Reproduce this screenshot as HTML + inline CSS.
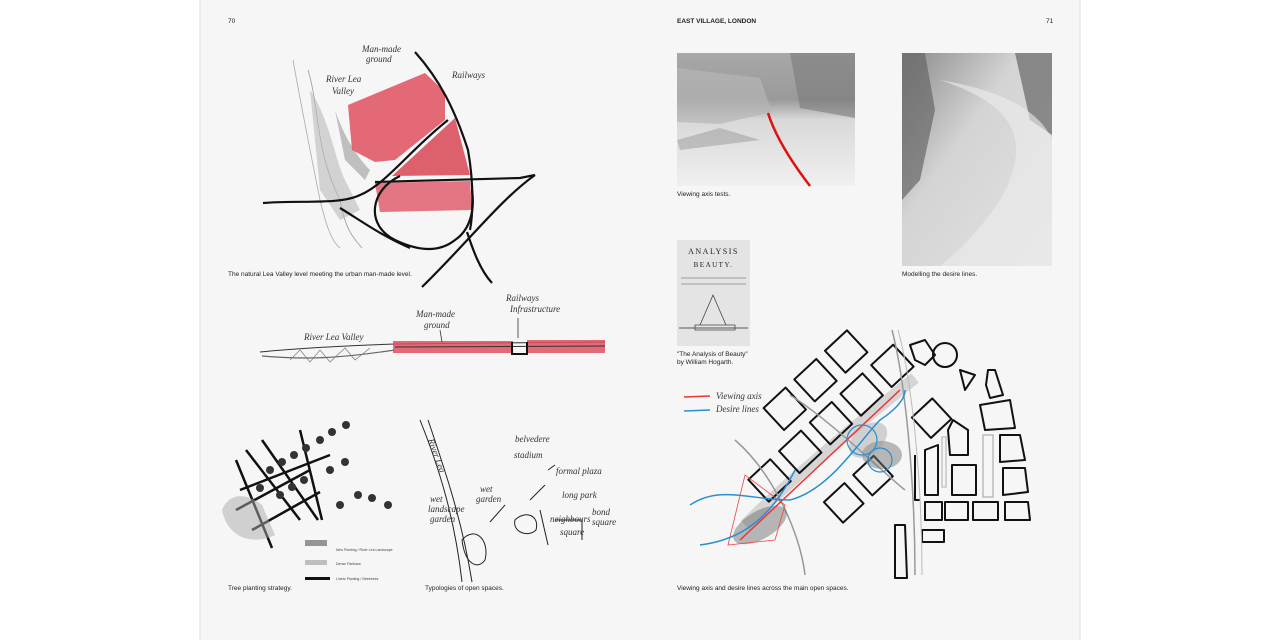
<!DOCTYPE html>
<html><head><meta charset="utf-8"><style>
html,body{margin:0;padding:0;background:#fff;}
body{width:1280px;height:640px;overflow:hidden;position:relative;font-family:"Liberation Sans",sans-serif;}
svg{position:absolute;left:0;top:0;}
.cap{font-family:"Liberation Sans",sans-serif;font-size:6.5px;fill:#222;}
.hw{font-family:"Liberation Serif",serif;font-style:italic;font-size:9px;fill:#333;}
</style></head><body>
<svg width="1280" height="640" viewBox="0 0 1280 640" xmlns="http://www.w3.org/2000/svg">
<defs>
<linearGradient id="p1" x1="0" y1="0" x2="0" y2="1"><stop offset="0" stop-color="#a8a8a8"/><stop offset="0.35" stop-color="#9a9a9a"/><stop offset="0.5" stop-color="#d8d8d8"/><stop offset="1" stop-color="#f0f0f0"/></linearGradient>
<linearGradient id="p2" x1="0" y1="0" x2="1" y2="1"><stop offset="0" stop-color="#8a8a8a"/><stop offset="0.4" stop-color="#d4d4d4"/><stop offset="1" stop-color="#e2e2e2"/></linearGradient>
</defs>
<rect x="200" y="0" width="880" height="640" fill="#f6f6f6"/>
<line x1="200" y1="0" x2="200" y2="640" stroke="#ddd" stroke-width="1"/>
<line x1="1080" y1="0" x2="1080" y2="640" stroke="#ddd" stroke-width="1"/>
<text x="228" y="23" class="cap">70</text>
<text x="677" y="23" class="cap" font-weight="bold">EAST VILLAGE, LONDON</text>
<text x="1046" y="23" class="cap">71</text>

<!-- Sketch 1 -->
<g>
<path d="M293,60 C300,100 310,150 320,200 C325,220 330,240 340,248" stroke="#aaa" fill="none" stroke-width="0.8"/>
<path d="M308,70 C320,110 315,150 340,200 C345,230 355,240 362,248" stroke="#999" fill="none" stroke-width="0.8"/>
<path d="M310,90 C330,120 335,160 345,180 L360,210 L340,220 L320,190 Z" fill="#bbb" opacity="0.6"/>
<path d="M335,110 C345,140 360,160 370,170 L365,180 L345,160 Z" fill="#888" opacity="0.5"/>
<path d="M348,105 L425,73 L445,92 L445,120 L395,160 L375,162 L352,150 Z" fill="#e05060" opacity="0.85"/>
<path d="M392,176 L455,118 L470,175 Z" fill="#d84555" opacity="0.85"/>
<path d="M375,183 L470,181 L472,210 L380,212 Z" fill="#e05565" opacity="0.8"/>
<path d="M415,52 C440,80 455,110 468,150 C475,190 472,220 470,230" stroke="#111" stroke-width="2.2" fill="none"/>
<path d="M263,203 C300,200 340,205 360,195 C385,185 410,150 448,120" stroke="#111" stroke-width="2.2" fill="none"/>
<path d="M375,182 L520,178 L535,175" stroke="#111" stroke-width="2.2" fill="none"/>
<path d="M400,176 C370,190 365,225 395,240 C420,252 440,252 455,240 C470,230 475,210 472,190" stroke="#111" stroke-width="2.2" fill="none"/>
<path d="M340,208 C360,220 380,235 410,248" stroke="#111" stroke-width="2.2" fill="none"/>
<path d="M535,175 C500,200 470,240 422,287" stroke="#111" stroke-width="2.2" fill="none"/>
<path d="M467,232 C473,250 480,270 492,283" stroke="#111" stroke-width="2.2" fill="none"/>
<text x="362" y="52" class="hw">Man-made</text><text x="366" y="62" class="hw">ground</text>
<text x="326" y="82" class="hw">River Lea</text><text x="332" y="94" class="hw">Valley</text>
<text x="452" y="78" class="hw">Railways</text>
</g>
<text x="228" y="276" class="cap">The natural Lea Valley level meeting the urban man-made level.</text>

<!-- Section sketch -->
<g>
<path d="M260,352 C300,348 340,346 395,344 L605,342" stroke="#333" fill="none" stroke-width="1"/>
<path d="M262,356 C310,360 340,358 395,350" stroke="#666" fill="none" stroke-width="1.2"/>
<path d="M290,360 L300,350 L310,362 L320,350 L330,362 L345,348 L355,360 L370,348" stroke="#777" fill="none" stroke-width="0.7"/>
<rect x="393" y="341" width="120" height="12" fill="#e05060" opacity="0.85"/>
<rect x="527" y="340" width="78" height="13" fill="#e05060" opacity="0.85"/>
<path d="M395,347 L605,346" stroke="#333" stroke-width="1"/>
<path d="M512,342 L512,354 L527,354 L527,342" stroke="#111" stroke-width="2" fill="none"/>
<path d="M440,330 L442,342" stroke="#333" stroke-width="0.8"/>
<path d="M518,318 L518,338" stroke="#333" stroke-width="0.8"/>
<text x="304" y="340" class="hw">River Lea Valley</text>
<text x="416" y="317" class="hw">Man-made</text><text x="424" y="328" class="hw">ground</text>
<text x="506" y="301" class="hw">Railways</text><text x="510" y="312" class="hw">Infrastructure</text>
</g>

<!-- Tree planting -->
<g stroke="#111" stroke-width="2.5" fill="none">
<path d="M236,460 L272,548"/><path d="M246,450 L300,520"/><path d="M262,440 L318,520"/>
<path d="M300,430 L322,520"/><path d="M236,510 L310,470"/><path d="M240,490 L330,455"/>
<path d="M252,530 L320,492"/>
</g>
<g fill="#333">
<circle cx="270" cy="470" r="4"/><circle cx="282" cy="462" r="4"/><circle cx="294" cy="455" r="4"/><circle cx="306" cy="448" r="4"/>
<circle cx="320" cy="440" r="4"/><circle cx="332" cy="432" r="4"/><circle cx="346" cy="425" r="4"/>
<circle cx="280" cy="495" r="4"/><circle cx="292" cy="487" r="4"/><circle cx="304" cy="480" r="4"/><circle cx="330" cy="470" r="4"/>
<circle cx="345" cy="462" r="4"/><circle cx="358" cy="495" r="4"/><circle cx="372" cy="498" r="4"/><circle cx="388" cy="505" r="4"/>
<circle cx="340" cy="505" r="4"/><circle cx="260" cy="488" r="4"/>
</g>
<path d="M222,510 C230,490 250,495 262,505 L275,535 C255,545 228,540 222,510Z" fill="#aaa" opacity="0.5"/>
<rect x="305" y="540" width="22" height="6" fill="#555" opacity="0.6"/>
<rect x="305" y="560" width="22" height="5" fill="#999" opacity="0.6"/>
<rect x="305" y="577" width="25" height="3" fill="#111"/>
<text x="336" y="551" font-size="3.5" fill="#444">New Planting / River Lea Landscape</text>
<text x="336" y="565" font-size="3.5" fill="#444">Dense Parklane</text>
<text x="336" y="580" font-size="3.5" fill="#444">Linear Planting / Streetrees</text>
<text x="228" y="590" class="cap">Tree planting strategy.</text>

<!-- Typologies -->
<g stroke="#222" stroke-width="1" fill="none">
<path d="M420,420 C440,470 455,520 462,582"/><path d="M428,420 C445,470 462,520 472,582"/>
<path d="M462,540 C475,525 490,540 485,560 C478,570 465,565 462,540Z"/>
<path d="M515,520 C525,510 540,515 536,530 C528,538 512,532 515,520Z"/>
<path d="M540,510 L548,545"/><path d="M555,520 L582,520 L582,540"/>
<path d="M490,522 L505,505"/><path d="M530,500 L545,485"/><path d="M548,470 L555,465"/>
</g>
<text x="428" y="440" class="hw" transform="rotate(70 428 440)">River Lea</text>
<text x="515" y="442" class="hw">belvedere</text><text x="514" y="458" class="hw">stadium</text>
<text x="556" y="474" class="hw">formal plaza</text>
<text x="480" y="492" class="hw">wet</text><text x="476" y="502" class="hw">garden</text>
<text x="430" y="502" class="hw">wet</text><text x="428" y="512" class="hw">landscape</text><text x="430" y="522" class="hw">garden</text>
<text x="562" y="498" class="hw">long park</text>
<text x="550" y="522" class="hw">neighbours</text><text x="560" y="535" class="hw">square</text>
<text x="592" y="515" class="hw">bond</text><text x="592" y="525" class="hw">square</text>
<text x="425" y="590" class="cap">Typologies of open spaces.</text>

<!-- Photos -->
<rect x="677" y="53" width="178" height="133" fill="url(#p1)"/>
<path d="M677,68 L760,78 L772,112 L720,124 L677,122Z" fill="#b5b5b5" opacity="0.7"/>
<path d="M790,53 L855,53 L855,118 L800,108Z" fill="#7a7a7a" opacity="0.6"/>
<path d="M677,140 L720,128 L760,140 L680,150Z" fill="#888" opacity="0.4"/>
<path d="M768,113 C775,135 790,160 810,186" stroke="#d11" stroke-width="2.5" fill="none"/>
<text x="677" y="196" class="cap">Viewing axis tests.</text>

<rect x="902" y="53" width="150" height="213" fill="url(#p2)"/>
<path d="M902,53 L925,53 L935,110 L920,180 L902,200Z" fill="#666" opacity="0.7"/>
<path d="M1015,53 L1052,53 L1052,135 L1030,120Z" fill="#666" opacity="0.7"/>
<path d="M940,80 C1000,100 1040,130 1000,200 C980,230 960,250 940,266 L1052,266 L1052,140 C1040,110 1000,90 940,80Z" fill="#ececec" opacity="0.6"/>
<text x="902" y="276" class="cap">Modelling the desire lines.</text>

<rect x="677" y="240" width="73" height="106" fill="#e4e4e4"/>
<text x="713.5" y="254" text-anchor="middle" font-family="Liberation Serif,serif" font-size="8" letter-spacing="1.5" fill="#222">ANALYSIS</text>
<text x="713.5" y="267" text-anchor="middle" font-family="Liberation Serif,serif" font-size="7" letter-spacing="1.5" fill="#222">BEAUTY.</text>
<line x1="681" y1="278" x2="746" y2="278" stroke="#555" stroke-width="0.5"/>
<line x1="681" y1="284" x2="746" y2="284" stroke="#555" stroke-width="0.5"/>
<path d="M700,325 L713,295 L726,325 M695,325 L735,325 L735,330 L695,330Z" stroke="#444" fill="none" stroke-width="0.8"/>
<line x1="679" y1="328" x2="748" y2="328" stroke="#555" stroke-width="1"/>
<text x="677" y="356" class="cap">"The Analysis of Beauty"</text>
<text x="677" y="364" class="cap">by William Hogarth.</text>

<!-- Big plan sketch -->
<path d="M745,525 C790,480 850,430 915,378" stroke="#888" stroke-width="12" opacity="0.3" fill="none"/>
<g stroke="#111" stroke-width="2" fill="none" stroke-linejoin="round">
<g transform="translate(835,470) rotate(-43)">
<rect x="-28" y="-52" width="30" height="30"/><rect x="14" y="-52" width="30" height="30"/>
<rect x="56" y="-52" width="30" height="30"/><rect x="98" y="-52" width="30" height="30"/>
<rect x="-70" y="-52" width="30" height="30"/>
<rect x="-10" y="-94" width="30" height="30"/><rect x="32" y="-94" width="30" height="30"/><rect x="74" y="-94" width="30" height="30"/>
<rect x="-30" y="16" width="28" height="28"/><rect x="10" y="16" width="28" height="28"/><rect x="92" y="14" width="28" height="28"/>
</g>
<path d="M910,345 L925,340 L935,355 L925,365 L915,360Z"/>
<circle cx="945" cy="355" r="12"/>
<path d="M960,370 L975,375 L965,390Z"/>
<path d="M988,370 L995,370 L1003,395 L990,398 L986,385Z"/>
<path d="M980,405 L1010,400 L1015,428 L985,430Z"/>
<path d="M953,420 L968,430 L968,455 L950,455 L948,430Z"/>
<path d="M1000,435 L1020,435 L1025,460 L1000,462Z"/>
<path d="M925,450 L938,445 L938,495 L925,495Z"/>
<path d="M952,465 L976,465 L976,495 L952,495Z"/>
<path d="M1003,468 L1025,468 L1028,492 L1003,495Z"/>
<path d="M925,502 L942,502 L942,520 L925,520Z"/><path d="M945,502 L968,502 L968,520 L945,520Z"/>
<path d="M973,502 L998,502 L998,520 L973,520Z"/><path d="M1005,502 L1028,502 L1030,520 L1005,520Z"/>
<path d="M895,525 L905,525 L907,578 L895,578Z"/><path d="M922,530 L944,530 L944,542 L922,542Z"/>
<path d="M915,455 L915,500 L920,500" />
</g>
<rect x="983" y="435" width="10" height="62" fill="none" stroke="#bbb" stroke-width="1.5"/>
<rect x="942" y="437" width="4" height="50" fill="none" stroke="#bbb" stroke-width="1.2"/>
<path d="M892,330 C905,380 915,480 915,575" stroke="#999" stroke-width="1.5" fill="none"/>
<path d="M898,330 C912,380 922,480 922,575" stroke="#bbb" stroke-width="1" fill="none"/>
<path d="M735,440 C770,470 800,530 805,575" stroke="#999" stroke-width="1.5" fill="none"/>
<path d="M790,395 C830,420 880,470 905,490" stroke="#999" stroke-width="1.5" fill="none"/>
<ellipse cx="882" cy="455" rx="20" ry="14" fill="#777" opacity="0.5"/>
<ellipse cx="868" cy="440" rx="22" ry="14" fill="#999" opacity="0.4" transform="rotate(-40 868 440)"/>
<ellipse cx="760" cy="525" rx="30" ry="14" fill="#555" opacity="0.4" transform="rotate(-30 760 525)"/>
<path d="M728,545 L745,475 L785,505 L775,540Z" stroke="#e44" stroke-width="0.8" fill="none"/>
<path d="M740,540 L900,390" stroke="#e33" stroke-width="1.5" fill="none"/>
<path d="M690,505 C720,485 750,500 790,500 C830,490 860,440 880,420 C895,410 905,400 905,390" stroke="#2a8fd0" stroke-width="1.5" fill="none"/>
<path d="M700,545 C740,540 770,520 795,470" stroke="#2a8fd0" stroke-width="1.5" fill="none"/>
<circle cx="862" cy="440" r="15" stroke="#2a8fd0" stroke-width="1.2" fill="none"/>
<circle cx="880" cy="460" r="12" stroke="#2a8fd0" stroke-width="1.2" fill="none"/>
<line x1="684" y1="397" x2="710" y2="396" stroke="#e33" stroke-width="1.5"/>
<line x1="684" y1="411" x2="710" y2="410" stroke="#2a8fd0" stroke-width="1.5"/>
<text x="716" y="399" class="hw">Viewing axis</text>
<text x="716" y="412" class="hw">Desire lines</text>
<text x="677" y="590" class="cap">Viewing axis and desire lines across the main open spaces.</text>
</svg>
</body></html>
